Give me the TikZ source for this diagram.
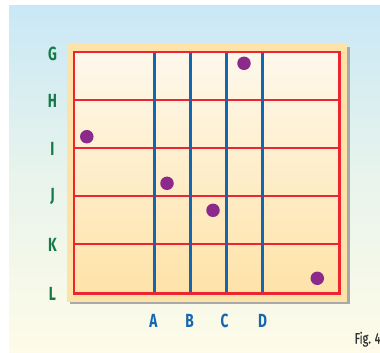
\documentclass[tikz,border=0pt]{standalone}
\usepackage{fontspec}
\newfontfamily\condfont[FakeStretch=0.72]{Fira Sans}
\newfontfamily\figfont[FakeStretch=0.72,FakeBold=0.6]{Fira Sans}
\definecolor{bgtop}{HTML}{C9E8F6}
\definecolor{bgmid}{HTML}{E9F4EC}
\definecolor{bgbot}{HTML}{FEFBE8}
\definecolor{paper}{HTML}{FEE3A8}
\definecolor{creamtop}{HTML}{FEF8EC}
\definecolor{gridred}{HTML}{EE2430}
\definecolor{gridblue}{HTML}{1466B0}
\definecolor{rowgreen}{HTML}{147A4A}
\definecolor{dotpurple}{HTML}{8C2A8C}
\definecolor{shadowgray}{HTML}{A9A9A9}
\definecolor{figgray}{HTML}{333333}
\tikzset{
  rowlab/.style={font=\condfont\bfseries\fontsize{19}{19}\selectfont, text=rowgreen, inner sep=0pt},
  collab/.style={font=\condfont\bfseries\fontsize{19}{19}\selectfont, text=gridblue, inner sep=0pt},
  dot/.style={circle, fill=dotpurple, minimum size=13.5pt, inner sep=0pt},
  hline/.style={draw=gridred, line width=1.1pt},
  vline/.style={draw=gridblue, line width=2.4pt},
}
\begin{document}
\begin{tikzpicture}[x=1pt,y=-1pt]
\useasboundingbox (0,0) rectangle (380,353);
% background panel
\shade[top color=bgtop, bottom color=bgbot, middle color=bgmid] (9,6) rectangle (380,353);
% shadow and paper
\fill[shadowgray] (70,47) rectangle (349.5,304);
\fill[paper] (66.5,44) rectangle (346.5,301.5);
% inner gradient
\shade[top color=creamtop, bottom color=paper] (74,52) rectangle (339.5,293.5);
% horizontal lines
\foreach \y in {100,148,196,244} \draw[hline] (74,\y) -- (339.5,\y);
% vertical lines
\foreach \x in {154.3,190.3,226.3,262.3} \draw[vline] (\x,52) -- (\x,293.5);
% border
\draw[draw=gridred, line width=2.2pt] (74,52) rectangle (339.5,293.5);
% row labels
\node[rowlab] (lG) at (52.5,53.5) {G};
\node[rowlab] (lH) at (52.5,101) {H};
\node[rowlab] (lI) at (52.5,149) {I};
\node[rowlab] (lJ) at (52.5,197) {J};
\node[rowlab] (lK) at (52.5,245) {K};
\node[rowlab] (lL) at (52.5,294) {L};
% column labels
\node[collab] (cA) at (153.5,320.5) {A};
\node[collab] (cB) at (189.5,320.5) {B};
\node[collab] (cC) at (224.5,320.5) {C};
\node[collab] (cD) at (262.5,320.5) {D};
% dots
\node[dot] (d1) at (244,63.3) {};
\node[dot] (d2) at (86.8,136.7) {};
\node[dot] (d3) at (167,183.3) {};
\node[dot] (d4) at (213,210.3) {};
\node[dot] (d5) at (317.3,278.3) {};
% fig label
\node[font=\figfont\fontsize{15}{15}\selectfont, text=figgray, inner sep=0pt, anchor=base west] (fig) at (354.5,343.5) {Fig. 4};
\end{tikzpicture}
\end{document}
